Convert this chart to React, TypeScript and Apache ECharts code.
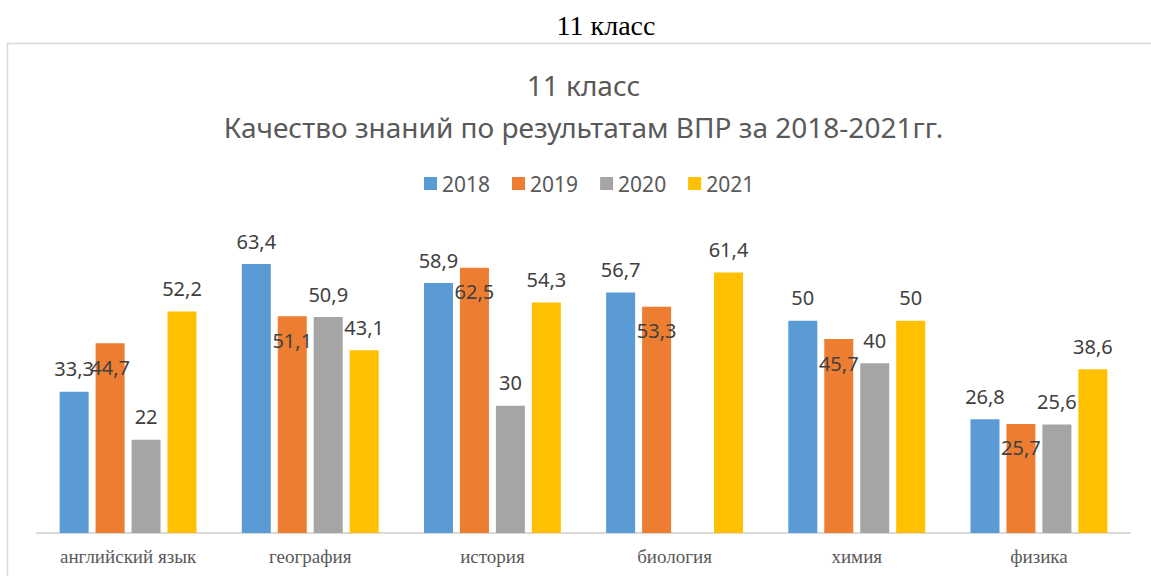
import React, { useEffect, useRef } from "react";
import * as echarts from "echarts";

const categories = ["английский язык", "география", "история", "биология", "химия", "физика"];
const years = ["2018", "2019", "2020", "2021"];
const values2018 = [33.3, 63.4, 58.9, 56.7, 50, 26.8];
const values2019 = [44.7, 51.1, 62.5, 53.3, 45.7, 25.7];
const values2020 = [22, 50.9, 30, null, 40, 25.6];
const values2021 = [52.2, 43.1, 54.3, 61.4, 50, 38.6];
const colors = ["#5B9BD5", "#ED7D31", "#A5A5A5", "#FFC000"];
const pageTitle = "11 класс";
const chartTitle1 = "11 класс";
const chartTitle2 = "Качество знаний по результатам ВПР за 2018-2021гг.";

const SANS = "'Noto Sans', 'Open Sans', sans-serif";
const SERIF = "'Liberation Serif', 'DejaVu Serif', serif";

export default function App() {
  const ref = useRef<HTMLDivElement>(null);
  useEffect(() => {
    if (!ref.current) return;
    const chart = echarts.init(ref.current, undefined, { renderer: "svg" });
    const allValues = [values2018, values2019, values2020, values2021];
    const fmt = (p: any) => String(p.value).replace(".", ",");
    chart.setOption({
      animation: false,
      backgroundColor: "#ffffff",
      graphic: [
        {
          type: "rect",
          shape: { x: 7.5, y: 43.5, width: 1200, height: 600 },
          style: { fill: "none", stroke: "#d9d9d9", lineWidth: 1.5 },
          z: -1,
        },
        {
          type: "text",
          x: 606,
          y: 25,
          style: {
            text: pageTitle,
            font: `28px ${SERIF}`,
            fill: "#000000",
            textAlign: "center",
            textVerticalAlign: "middle",
          },
        },
        {
          type: "text",
          x: 583.5,
          y: 85,
          style: {
            text: chartTitle1,
            font: `28px ${SANS}`,
            fill: "#595959",
            textAlign: "center",
            textVerticalAlign: "middle",
          },
        },
        {
          type: "text",
          x: 583.5,
          y: 127,
          style: {
            text: chartTitle2,
            font: `28px ${SANS}`,
            fill: "#595959",
            textAlign: "center",
            textVerticalAlign: "middle",
          },
        },
      ],
      legend: {
        data: years,
        top: 173,
        left: 424,
        padding: 0,
        itemWidth: 13,
        itemHeight: 13,
        itemGap: 22,
        icon: "rect",
        textStyle: { fontFamily: SANS, fontSize: 21, color: "#595959" },
      },
      grid: { left: 37, right: 21, top: 236, bottom: 43 },
      xAxis: {
        type: "category",
        data: categories,
        axisLine: { lineStyle: { color: "#d9d9d9", width: 2 } },
        axisTick: { show: false },
        axisLabel: { fontFamily: SERIF, fontSize: 19, color: "#595959", margin: 14 },
      },
      yAxis: {
        type: "value",
        min: 0,
        max: 70,
        show: false,
        splitLine: { show: false },
      },
      series: years.map((y, i) => ({
        name: y,
        type: "bar",
        data: allValues[i],
        barWidth: 29,
        barGap: "24%",
        itemStyle: { color: colors[i] },
        label: {
          show: true,
          position: i === 1 ? "insideTop" : "top",
          distance: i === 1 ? 14 : 13,
          formatter: fmt,
          fontFamily: SANS,
          fontSize: 20,
          color: "#404040",
        },
      })),
    });
    return () => chart.dispose();
  }, []);
  return (
    <div
      ref={ref}
      style={{ position: "fixed", left: 0, top: 0, width: 1151, height: 576, background: "#fff" }}
    />
  );
}
